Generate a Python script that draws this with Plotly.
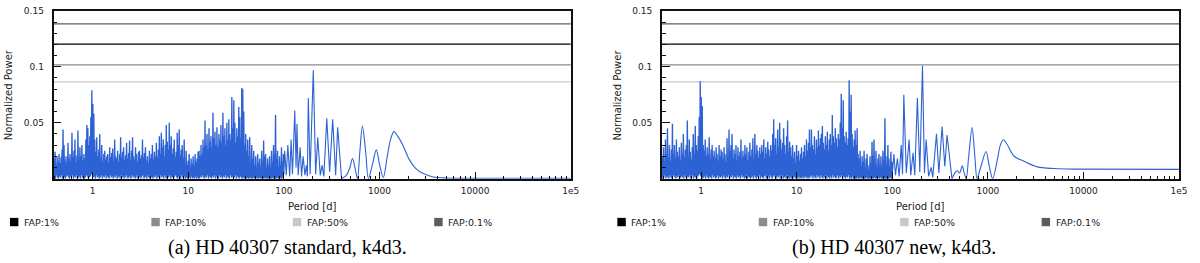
import numpy as np
import plotly.graph_objects as go

# ---------------- data ----------------
FAP_LABELS = ["FAP:1%", "FAP:10%", "FAP:50%", "FAP:0.1%"]
FAP_LEVELS = [0.1202, 0.1018, 0.0866, 0.1383]
FAP_COLORS = ["#000000", "#8c8c8c", "#c8c8c8", "#5c5c5c"]

X_TICK_VALS = [1, 10, 100, 1000, 10000, 100000]
X_TICK_TEXT = ["1", "10", "100", "1000", "10000", "1e5"]
Y_TICK_VALS = [0.05, 0.1, 0.15]
Y_TICK_TEXT = ["0.05", "0.1", "0.15"]

PERIOD_MIN, PERIOD_MAX = 0.39, 1e5
NOISE_START, NOISE_END = 0.39, 99.0   # dense short-period part of the periodogram

CAPTIONS = ["(a) HD 40307 standard, k4d3.", "(b) HD 40307 new, k4d3."]

# panel (a): dense part, local maxima / minima (units of 1e-3)
a_noise_peaks = [
    18, 24, 12, 20, 15, 22, 14, 19, 26, 44,
    30, 16, 20, 13, 32, 18, 22, 15, 41, 19,
    25, 35, 14, 21, 43, 17, 28, 20, 30, 16,
    22, 18, 35, 48, 45, 30, 38, 55, 79, 67,
    58, 35, 24, 37, 20, 26, 40, 18, 30, 15,
    22, 25, 17, 20, 22, 14, 28, 19, 23, 27,
    16, 35, 20, 18, 25, 15, 22, 37, 19, 24,
    28, 17, 21, 32, 18, 23, 34, 16, 25, 37,
    20, 17, 28, 22, 15, 24, 25, 18, 21, 35,
    19, 23, 28, 16, 20, 14, 25, 18, 22, 30,
    17, 24, 20, 32, 19, 26, 38, 22, 41, 28,
    35, 20, 30, 48, 33, 26, 50, 30, 38, 22,
    27, 35, 19, 24, 41, 30, 44, 21, 26, 30,
    18, 35, 14, 25, 12, 16, 22, 10, 18, 13,
    20, 11, 22, 15, 18, 24, 25, 20, 30, 22,
    35, 28, 52, 30, 40, 26, 45, 33, 38, 28,
    59, 36, 42, 30, 46, 28, 40, 35, 48, 32,
    59, 38, 45, 30, 50, 35, 53, 40, 34, 73,
    45, 70, 50, 32, 45, 38, 64, 55, 36, 81,
    80, 60, 30, 40, 25, 35, 20, 37, 15, 30,
    18, 25, 12, 20, 9, 22, 14, 18, 8, 25,
    15, 34, 20, 22, 10, 18, 12, 20, 8, 25,
    15, 30, 22, 57, 18, 25, 10, 20, 12, 28,
    15, 22,
]
a_noise_troughs = [
    1, 2, 0, 3, 1, 0, 2, 1, 3, 0,
    2, 1, 0, 2, 3, 1, 0, 2, 1, 3,
    0, 2, 1, 3, 0, 1, 2, 0, 3, 1,
    2, 0, 1, 3, 2, 0, 1, 2, 4, 3,
    1, 2, 0, 3, 1, 2, 0, 1, 3, 0,
    2, 1, 3, 0, 2, 1, 0, 3, 1, 2,
    0, 2, 1, 3, 0, 1, 2, 0, 3, 1,
    2, 0, 1, 3, 1, 0, 2, 1, 0, 3,
    1, 2, 0, 1, 3, 0, 2, 1, 0, 2,
    3, 0, 1, 2, 0, 3, 1, 0, 2, 1,
    0, 2, 1, 3, 0, 1, 2, 0, 3, 1,
    2, 0, 3, 1, 0, 2, 1, 3, 0, 2,
    1, 0, 2, 3, 1, 0, 2, 1, 0, 3,
    1, 0, 2, 0, 1, 0, 0, 1, 0, 2,
    0, 1, 0, 2, 0, 1, 0, 0, 2, 1,
    3, 1, 0, 2, 1, 3, 0, 2, 1, 0,
    2, 1, 3, 0, 2, 1, 0, 3, 1, 2,
    0, 2, 1, 3, 0, 2, 1, 0, 3, 1,
    2, 0, 1, 3, 0, 2, 1, 0, 2, 1,
    0, 1, 0, 2, 0, 1, 0, 0, 1, 0,
    0, 1, 0, 0, 1, 0, 0, 1, 0, 0,
    1, 0, 0, 1, 0, 0, 0, 1, 0, 0,
    0, 1, 0, 0, 0, 1, 0, 0, 1, 0,
    0, 1,
]
a_long_period = [100, 102, 106, 110, 115, 119, 123, 130, 134, 137, 141, 148, 153,
                 159, 166, 172, 176, 180, 188, 203, 215, 226, 240, 251, 262, 281,
                 301, 324, 348, 365, 401, 450, 490, 522, 556, 589, 623, 663, 717,
                 765, 840, 926, 1005, 1095, 1208, 1295, 1414, 1550, 1777, 2050,
                 2400, 2870, 3670, 5000, 10000, 100000]
a_long_power = [0.004, 0.025, 0.003, 0.030, 0.002, 0.035, 0.004, 0.061, 0.010, 0.049,
                0.003, 0.028, 0.002, 0.020, 0.003, 0.012, 0.002, 0.072, 0.004, 0.097,
                0.004, 0.037, 0.003, 0.012, 0.002, 0.054, 0.006, 0.053, 0.003, 0.046,
                0.000, 0.003, 0.010, 0.018, 0.009, 0.000, 0.024, 0.047, 0.024, 0.000,
                0.012, 0.0257, 0.012, 0.001, 0.020, 0.034, 0.042, 0.038, 0.029, 0.017,
                0.009, 0.0045, 0.0015, 0.0006, 0.0004, 0.0004]
A_SMOOTH_FROM = 401

# panel (b)
b_noise_peaks = [
    20, 28, 15, 35, 22, 45, 18, 30, 16, 26,
    49, 22, 30, 18, 35, 24, 20, 28, 16, 32,
    22, 40, 19, 26, 30, 52, 20, 35, 24, 17,
    28, 40, 22, 47, 30, 25, 38, 55, 87, 73,
    65, 30, 25, 35, 20, 28, 22, 37, 18, 26,
    30, 20, 25, 18, 28, 22, 16, 30, 20, 26,
    24, 18, 28, 22, 15, 36, 20, 44, 25, 30,
    40, 18, 26, 22, 30, 16, 28, 20, 24, 35,
    18, 25, 20, 30, 22, 28, 16, 24, 32, 20,
    26, 36, 18, 40, 22, 30, 25, 19, 28, 22,
    30, 24, 35, 18, 28, 22, 33, 26, 20, 30,
    25, 40, 53, 30, 36, 22, 44, 28, 50, 35,
    26, 32, 45, 30, 22, 38, 52, 24, 33, 28,
    20, 30, 18, 24, 14, 30, 20, 25, 16, 22,
    28, 18, 24, 30, 20, 35, 25, 32, 44, 28,
    44, 30, 26, 38, 22, 35, 28, 43, 30, 36,
    40, 47, 32, 26, 38, 30, 42, 25, 35, 40,
    30, 57, 38, 32, 45, 36, 28, 40, 35, 50,
    76, 45, 70, 38, 32, 42, 30, 36, 88, 60,
    75, 40, 28, 35, 43, 30, 45, 22, 18, 25,
    12, 20, 15, 25, 10, 18, 22, 12, 8, 20,
    14, 33, 20, 35, 12, 25, 10, 18, 22, 12,
    20, 10, 25, 15, 54, 20, 12, 30, 18, 10,
    24, 15,
]
b_noise_troughs = [
    2, 0, 1, 3, 0, 2, 1, 0, 3, 1,
    0, 2, 3, 1, 0, 2, 1, 3, 0, 1,
    2, 1, 0, 3, 1, 0, 2, 1, 3, 0,
    1, 3, 0, 2, 1, 0, 2, 3, 4, 2,
    3, 0, 1, 2, 0, 3, 1, 0, 2, 1,
    0, 3, 1, 2, 0, 1, 3, 0, 2, 1,
    2, 0, 3, 1, 0, 2, 1, 3, 0, 2,
    1, 3, 0, 2, 1, 0, 3, 1, 2, 0,
    3, 1, 2, 0, 1, 3, 0, 2, 1, 0,
    1, 2, 0, 3, 1, 0, 2, 1, 3, 0,
    2, 1, 0, 2, 3, 0, 1, 2, 0, 3,
    1, 0, 2, 3, 1, 0, 2, 1, 3, 0,
    2, 3, 0, 1, 2, 0, 3, 1, 0, 2,
    0, 1, 0, 2, 1, 0, 1, 0, 2, 0,
    1, 0, 2, 0, 1, 2, 0, 1, 0, 2,
    1, 3, 0, 2, 1, 0, 3, 1, 2, 0,
    3, 1, 0, 2, 1, 3, 0, 2, 1, 0,
    2, 0, 3, 1, 2, 0, 1, 3, 0, 2,
    1, 3, 0, 2, 1, 0, 2, 1, 3, 0,
    1, 0, 2, 0, 1, 0, 0, 1, 0, 0,
    1, 0, 0, 1, 0, 0, 1, 0, 0, 0,
    0, 1, 0, 0, 1, 0, 0, 0, 1, 0,
    1, 0, 0, 1, 0, 0, 0, 1, 0, 0,
    1, 0,
]
b_long_period = [100, 104, 108, 113, 118, 124, 128, 132, 140, 150, 156, 165, 172, 183,
                 194, 207, 217, 226, 240, 255, 265, 290, 307, 332, 354, 374, 421,
                 450, 478, 505, 539, 565, 593, 630, 684, 730, 771, 840, 956, 1040,
                 1122, 1250, 1350, 1448, 1580, 1884, 2393, 3289, 4900, 8710, 100000]
b_long_power = [0.004, 0.022, 0.003, 0.018, 0.002, 0.030, 0.004, 0.075, 0.005, 0.035,
                0.003, 0.023, 0.003, 0.072, 0.006, 0.101, 0.005, 0.035, 0.002, 0.010,
                0.001, 0.040, 0.005, 0.0465, 0.011, 0.039, 0.000, 0.005, 0.007, 0.005,
                0.0114, 0.005, 0.000, 0.020, 0.0456, 0.020, 0.000, 0.010, 0.0243, 0.010,
                0.000, 0.016, 0.030, 0.0348, 0.031, 0.020, 0.0155, 0.0105, 0.009,
                0.0085, 0.0083]
B_SMOOTH_FROM = 421

# ---------------- layout constants ----------------
W, H = 1200, 263
LINE_COLOR = "#2d62d4"
TICK_FONT = dict(family="DejaVu Sans", size=9, color="#222222")
LABEL_FONT = dict(family="DejaVu Sans", size=10, color="#222222")
PLOT_TOP, PLOT_BOTTOM = 6, 177
PANELS = [
    dict(left=54, right=575, peaks=a_noise_peaks, troughs=a_noise_troughs,
         lp=a_long_period, lw=a_long_power, smooth_from=A_SMOOTH_FROM,
         ylabel_x=8.5, legend_x=10, caption_x=290),
    dict(left=667, right=1188, peaks=b_noise_peaks, troughs=b_noise_troughs,
         lp=b_long_period, lw=b_long_power, smooth_from=B_SMOOTH_FROM,
         ylabel_x=622.5, legend_x=622, caption_x=901),
]
LEGEND_STEP = 142.5


def fx(px):
    return px / W


def fy(py):
    return 1 - py / H


fig = go.Figure()

minor_x = [k * 10.0 ** d for d in range(-1, 5) for k in range(2, 10)
           if PERIOD_MIN <= k * 10.0 ** d <= PERIOD_MAX]
minor_y = [round(v * 0.01, 2) for v in range(1, 15) if v not in (5, 10)]

annotations = []
shapes = []

for i, p in enumerate(PANELS):
    sfx = "" if i == 0 else str(i + 1)
    xa, ya = "x" + sfx, "y" + sfx

    noise_vals = []
    for t, s in zip(p["troughs"], p["peaks"]):
        noise_vals += [t * 1e-3, s * 1e-3]
    noise_period = np.geomspace(NOISE_START, NOISE_END, len(noise_vals))

    lp = np.array(p["lp"], dtype=float)
    lw = np.array(p["lw"], dtype=float)
    cut = int(np.searchsorted(lp, p["smooth_from"]))

    fig.add_trace(go.Scatter(x=noise_period, y=noise_vals, mode="lines",
                             xaxis=xa, yaxis=ya,
                             line=dict(color=LINE_COLOR, width=1.35), hoverinfo="skip",
                             showlegend=False))
    fig.add_trace(go.Scatter(x=np.concatenate([noise_period[-1:], lp[:cut + 1]]),
                             y=np.concatenate([noise_vals[-1:], lw[:cut + 1]]),
                             mode="lines", xaxis=xa, yaxis=ya,
                             line=dict(color=LINE_COLOR, width=1.1), hoverinfo="skip",
                             showlegend=False))
    fig.add_trace(go.Scatter(x=lp[cut:], y=lw[cut:], mode="lines", xaxis=xa, yaxis=ya,
                             line=dict(color=LINE_COLOR, width=1.1, shape="spline",
                                       smoothing=0.9),
                             hoverinfo="skip", showlegend=False))

    xdom = [fx(p["left"]), fx(p["right"])]
    ydom = [fy(PLOT_BOTTOM), fy(PLOT_TOP)]
    fig.update_layout(**{
        "xaxis" + sfx: dict(
            type="log", domain=xdom, anchor=ya,
            range=[np.log10(PERIOD_MIN), np.log10(PERIOD_MAX)],
            tickmode="array", tickvals=X_TICK_VALS, ticktext=X_TICK_TEXT,
            ticks="inside", ticklen=7, tickwidth=1, tickcolor="#111111",
            tickfont=TICK_FONT, ticklabelstandoff=3,
            showline=True, linecolor="#111111", linewidth=1.5, mirror=True,
            showgrid=False, zeroline=False,
            minor=dict(tickmode="array", tickvals=minor_x, ticks="inside", ticklen=3,
                       tickcolor="#111111", tickwidth=1, showgrid=False),
        ),
        "yaxis" + sfx: dict(
            domain=ydom, anchor=xa, range=[0, 0.15],
            tickmode="array", tickvals=Y_TICK_VALS, ticktext=Y_TICK_TEXT,
            ticks="inside", ticklen=8, tickwidth=1, tickcolor="#111111",
            tickfont=TICK_FONT, ticklabelstandoff=6,
            showline=True, linecolor="#111111", linewidth=1.8, mirror=True,
            showgrid=False, zeroline=False,
            minor=dict(tickmode="array", tickvals=minor_y, ticks="inside", ticklen=4,
                       tickcolor="#111111", tickwidth=1, showgrid=False),
        ),
    })

    # FAP threshold lines
    for lvl, col in zip(FAP_LEVELS, FAP_COLORS):
        shapes.append(dict(type="line", xref=xa + " domain", yref=ya, x0=0, x1=1,
                           y0=lvl, y1=lvl, line=dict(color=col, width=1.3),
                           layer="below"))

    # axis titles
    annotations.append(dict(text="Normalized Power", xref="paper", yref="paper",
                            x=fx(p["ylabel_x"]), y=fy((PLOT_TOP + PLOT_BOTTOM) / 2),
                            textangle=-90, showarrow=False, font=LABEL_FONT,
                            xanchor="center", yanchor="middle"))
    annotations.append(dict(text="Period [d]", xref="paper", yref="paper",
                            x=fx((p["left"] + p["right"]) / 2), y=fy(205),
                            showarrow=False, font=LABEL_FONT,
                            xanchor="center", yanchor="middle"))

    # legend (squares + labels)
    for j, (lab, col) in enumerate(zip(FAP_LABELS, FAP_COLORS)):
        sx = p["legend_x"] + j * LEGEND_STEP
        shapes.append(dict(type="rect", xref="paper", yref="paper",
                           x0=fx(sx), x1=fx(sx + 8.5), y0=fy(225.5), y1=fy(217),
                           fillcolor=col, line=dict(width=0)))
        annotations.append(dict(text=lab, xref="paper", yref="paper",
                                x=fx(sx + 12), y=fy(221.5), showarrow=False,
                                xanchor="left", yanchor="middle",
                                font=dict(family="DejaVu Sans", size=9.5,
                                          color="#222222")))

    # caption
    annotations.append(dict(text=CAPTIONS[i], xref="paper", yref="paper",
                            x=fx(p["caption_x"]), y=fy(247), showarrow=False,
                            xanchor="center", yanchor="middle",
                            font=dict(family="Liberation Serif", size=20,
                                      color="#000000")))

fig.update_layout(
    width=W, height=H, margin=dict(l=0, r=0, t=0, b=0),
    paper_bgcolor="white", plot_bgcolor="white", showlegend=False,
    shapes=shapes, annotations=annotations,
)

fig.write_html("out.html", config={"displayModeBar": False},
               post_script="document.body.style.margin='0';"
                           "document.body.style.overflow='hidden';")
